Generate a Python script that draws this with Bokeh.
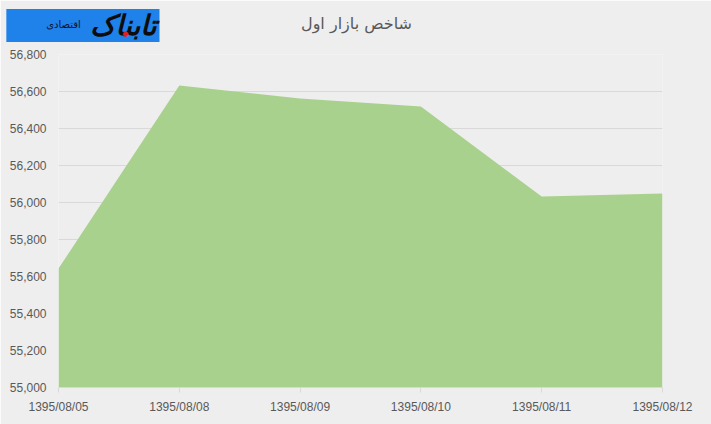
from bokeh.plotting import figure
from bokeh.models import Range1d, FixedTicker, NumeralTickFormatter, Label
from bokeh.embed import file_html
from bokeh.resources import INLINE

# ---- data ----
dates = ["1395/08/05", "1395/08/08", "1395/08/09", "1395/08/10", "1395/08/11", "1395/08/12"]
index_values = [55643, 56632, 56562, 56519, 56032, 56049]
y_ticks = [55000, 55200, 55400, 55600, 55800, 56000, 56200, 56400, 56600, 56800]
title_text = "شاخص بازار اول"
logo_text = "تابناک"
logo_sub = "اقتصادی"

BG = "#EEEEEE"
xs = list(range(len(dates)))

p = figure(width=711, height=424, output_backend="svg", toolbar_location=None, title=None,
           x_range=Range1d(xs[0], xs[-1]), y_range=Range1d(y_ticks[0], y_ticks[-1]),
           background_fill_color=BG, border_fill_color=BG,
           min_border_left=58, min_border_right=49, min_border_top=54, min_border_bottom=37)
p.outline_line_color = None

p.varea(x=xs, y1=[y_ticks[0]] * len(xs), y2=index_values, fill_color="#A9D18E")

# grid
p.xgrid.grid_line_color = None
p.ygrid.grid_line_color = "#D9D9D9"
p.ygrid.ticker = FixedTicker(ticks=y_ticks)
p.ygrid.level = "underlay"

# axes
xa = p.xaxis[0]
xa.ticker = FixedTicker(ticks=xs)
xa.major_label_overrides = {i: d for i, d in enumerate(dates)}
xa.axis_line_color = "#D9D9D9"
xa.major_tick_line_color = "#D9D9D9"
xa.major_tick_out = 5
xa.major_tick_in = 0
xa.minor_tick_line_color = None
xa.major_label_standoff = 7
xa.major_label_text_font = "Liberation Sans"
xa.major_label_text_font_size = "12px"
xa.major_label_text_color = "#595959"

ya = p.yaxis[0]
ya.ticker = FixedTicker(ticks=y_ticks)
ya.formatter = NumeralTickFormatter(format="0,0")
ya.axis_line_color = None
ya.major_tick_line_color = None
ya.minor_tick_line_color = None
ya.major_tick_out = 0
ya.major_tick_in = 0
ya.major_label_standoff = 12
ya.major_label_text_font = "Liberation Sans"
ya.major_label_text_font_size = "12px"
ya.major_label_text_color = "#595959"

# ---- header (labels in side panels are not clipped to the frame) ----
# logo box: innermost "above" panel
p.add_layout(Label(x=101, y=29, x_units="screen", y_units="screen", text=logo_text,
                   text_align="right", text_baseline="middle", text_font="DejaVu Sans",
                   text_font_style="bold italic", text_font_size="28px", text_color="#0D0D0D",
                   background_fill_color="#1E82EA",
                   padding=dict(left=84, right=3, top=0, bottom=0)), "above")
# chart title: next "above" panel
p.add_layout(Label(x=298, y=-2, x_units="screen", y_units="screen", text=title_text,
                   text_align="center", text_baseline="middle", text_font="DejaVu Sans",
                   text_font_size="16px", text_color="#595959"), "above")
# small logo pieces: placed through the right panel
p.add_layout(Label(x=-537, y=354, x_units="screen", y_units="screen", text="●",
                   text_align="center", text_baseline="middle", text_font="DejaVu Sans",
                   text_font_size="7px", text_color="#E02020"), "right")
p.add_layout(Label(x=-605, y=363, x_units="screen", y_units="screen", text=logo_sub,
                   text_align="center", text_baseline="middle", text_font="DejaVu Sans",
                   text_font_size="10px", text_color="#101030"), "right")

open("out.html", "w").write(file_html(p, INLINE))
